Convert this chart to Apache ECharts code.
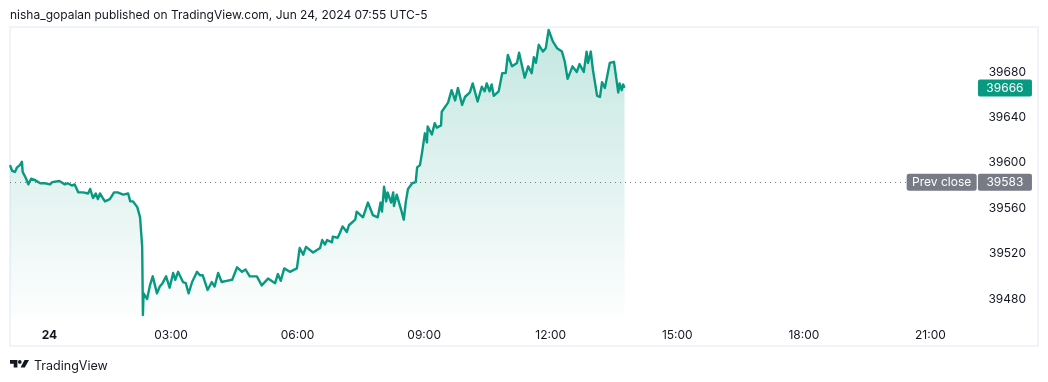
<!DOCTYPE html>
<html><head><meta charset="utf-8">
<style>html,body{margin:0;padding:0;background:#fff}#c{width:1048px;height:382px}</style>
<script src="https://cdn.jsdelivr.net/npm/echarts@6/dist/echarts.min.js"></script>
</head><body><div id="c"></div>
<script>
const minutes=[-49,-46,-42,-39,-35,-32,-31,-26,-23,-19,-14,-6,1,8,11,21,29,33,39,43,48,55,62,65,69,73,76,79,83,86,93,99,104,112,119,122,126,132,136,139,140,141,146,150,154,160,164,168,173,178,183,186,190,197,201,205,210,217,221,225,232,238,242,247,252,259,267,274,281,286,292,302,309,318,328,332,336,341,349,359,363,368,372,382,392,395,399,402,409,410,417,420,424,430,433,442,444,453,460,467,474,478,480,483,486,488,493,496,497,501,508,511,514,517,523,528,530,534,537,541,544,545,551,555,558,564,565,574,579,584,588,594,598,605,609,616,622,626,629,633,636,639,646,651,656,659,665,672,675,683,688,693,696,699,703,709,713,717,723,729,736,740,744,751,757,761,767,771,773,777,780,786,790,793,797,804,810,816,818,821,823,825];
const prices=[39598,39593,39592,39596,39598,39601,39592,39586,39581,39586,39585,39582,39582,39581,39583,39584,39581,39582,39580,39581,39574,39574,39573,39577,39569,39573,39568,39573,39569,39566,39568,39574,39574,39572,39573,39566,39566,39561,39552,39526,39466,39485,39480,39492,39500,39485,39491,39494,39500,39490,39503,39497,39504,39495,39494,39485,39495,39504,39501,39501,39488,39495,39491,39503,39495,39496,39497,39508,39504,39506,39500,39500,39492,39498,39494,39502,39496,39507,39504,39507,39525,39519,39526,39521,39525,39532,39528,39532,39530,39535,39534,39538,39544,39539,39545,39550,39557,39552,39565,39554,39552,39565,39557,39579,39566,39574,39565,39574,39562,39572,39557,39550,39566,39577,39582,39583,39596,39598,39609,39626,39618,39632,39625,39635,39631,39633,39645,39653,39664,39655,39666,39651,39658,39662,39670,39654,39667,39663,39670,39663,39669,39659,39663,39679,39679,39695,39685,39688,39697,39675,39685,39679,39693,39688,39704,39698,39701,39717,39707,39701,39698,39689,39674,39685,39680,39687,39680,39698,39688,39698,39682,39659,39658,39671,39666,39688,39689,39662,39670,39664,39669,39666];
const priceTicks=[39480,39520,39560,39600,39640,39680];
const timeTicks=[7,180,360,540,720,900,1080,1260];
const timeLabels=['24','03:00','06:00','09:00','12:00','15:00','18:00','21:00'];
const prevClose=39583, lastPrice=39666;
const FONT='Inter, "Liberation Sans", sans-serif';
const UP='#089981', INK='#131722', TAG='#787b86';
const TAG_SHAPE='path://M2 0H52A2 2 0 0 1 54 2V15A2 2 0 0 1 52 17H2A2 2 0 0 1 0 15V2A2 2 0 0 1 2 0Z';
const chart=echarts.init(document.getElementById('c'),null,{renderer:'canvas'});
chart.setOption({
  animation:false,
  textStyle:{fontFamily:FONT},
  grid:{left:10,right:10,top:29,bottom:64,containLabel:false},
  xAxis:{type:'value',min:-49,max:1413,
    axisLine:{show:false},axisTick:{show:false},splitLine:{show:false},
    axisLabel:{customValues:timeTicks,margin:11,color:INK,fontSize:12,fontFamily:FONT,
      formatter:v=>{const s=timeLabels[timeTicks.indexOf(v)];return s==='24'?'{b|24}':s;},
      rich:{b:{fontWeight:'bold',fontSize:12,color:INK,fontFamily:FONT}}}},
  yAxis:{type:'value',position:'right',min:39463.3,max:39717.9,
    axisLine:{show:false},axisTick:{show:false},splitLine:{show:false},
    axisLabel:{customValues:priceTicks,inside:true,margin:12,color:INK,fontSize:12,fontFamily:FONT,formatter:v=>String(v)}},
  series:[{
    type:'line',data:minutes.map((m,i)=>[m,prices[i]]),showSymbol:false,symbol:'none',
    lineStyle:{color:UP,width:2.4,join:'round'},
    areaStyle:{origin:'start',color:new echarts.graphic.LinearGradient(0,0,0,1,[
      {offset:0,color:'rgba(8,153,129,0.34)'},{offset:1,color:'rgba(8,153,129,0.01)'}])},
    markLine:{silent:true,symbol:'none',label:{show:false},
      lineStyle:{color:TAG,width:1,type:[1,4],opacity:1},
      data:[[{coord:[-49,prevClose]},{coord:[1226,prevClose]}]]},
    markPoint:{silent:true,symbol:TAG_SHAPE,symbolKeepAspect:false,
      data:[
        {coord:[1366,lastPrice],symbolSize:[54,17],itemStyle:{color:UP},
         label:{show:true,position:'inside',formatter:String(lastPrice),color:'#fff',fontSize:12,fontFamily:FONT}},
        {coord:[1276,prevClose],symbolSize:[70,17],itemStyle:{color:TAG},
         label:{show:true,position:'inside',formatter:'Prev close',color:'#fff',fontSize:12,fontFamily:FONT}},
        {coord:[1366,prevClose],symbolSize:[54,17],itemStyle:{color:TAG},
         label:{show:true,position:'inside',formatter:String(prevClose),color:'#fff',fontSize:12,fontFamily:FONT}}
      ]}
  }],
  graphic:[
    {type:'rect',silent:true,shape:{x:10,y:27,width:1028,height:319},style:{fill:'none',stroke:'#f0f3fa',lineWidth:2}},
    {type:'text',silent:true,x:10,y:9,style:{text:'nisha_gopalan published on TradingView.com, Jun 24, 2024 07:55 UTC-5',font:'12px '+FONT,fill:INK}},
    {type:'polygon',silent:true,shape:{points:[[10,360],[17.4,360],[17.4,367.4],[13.7,367.4],[13.7,363.7],[10,363.7]]},style:{fill:INK}},
    {type:'polygon',silent:true,shape:{points:[[24.8,367.4],[20.6,367.4],[24.5,360],[29,360]]},style:{fill:INK}},
    {type:'circle',silent:true,shape:{cx:19.8,cy:361.9,r:1.85},style:{fill:INK}},
    {type:'text',silent:true,x:34,y:360,style:{text:'TradingView',font:'12.5px '+FONT,fill:INK}}
  ]
});
</script></body></html>
